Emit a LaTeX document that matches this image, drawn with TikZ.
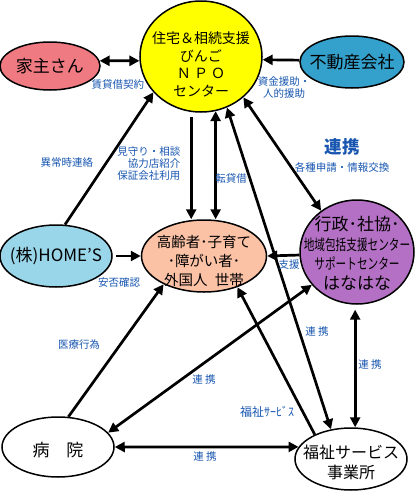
\documentclass[tikz,border=0pt]{standalone}
\usepackage{fontspec}
\usepackage{graphicx}
\setmainfont{Noto Sans CJK JP}
\usetikzlibrary{arrows.meta,shapes.geometric}

\begin{document}
\begin{tikzpicture}[x=1pt,y=-1pt,
    bub/.style={ellipse,draw=black,line width=1.5pt,inner sep=0pt},
    ntxt/.style={align=center,font=\fontsize{14}{17.5}\selectfont},
    btxt/.style={align=center,font=\fontsize{17}{20}\selectfont},
    lbl/.style={align=center,text=cBlue,font=\fontsize{10.5}{12}\selectfont},
    arr/.style={line width=2.7pt,-{Triangle[length=10pt,width=10pt]}},
    darr/.style={line width=2.7pt,{Triangle[length=10pt,width=10pt]}-{Triangle[length=10pt,width=10pt]}}]
  \definecolor{cNpo}{RGB}{255,255,0}
  \definecolor{cYanu}{RGB}{240,122,130}
  \definecolor{cFudo}{RGB}{52,160,204}
  \definecolor{cHomes}{RGB}{153,214,234}
  \definecolor{cKou}{RGB}{252,194,166}
  \definecolor{cGyo}{RGB}{180,112,196}
  \definecolor{cBlue}{RGB}{24,86,176}

  \useasboundingbox (0,0) rectangle (415,491);

  % --- bubbles ---
  \node[bub,fill=cNpo,minimum width=122pt,minimum height=111pt,
    label={[ntxt,yshift=-8pt]center:住宅＆相続支援\\びんご\\Ｎ Ｐ Ｏ\\センター}] (npo) at (201,56.5) {};
  \node[bub,fill=cYanu,minimum width=100pt,minimum height=48pt,
    label={[btxt]center:家主さん}] (yanu) at (50,66) {};
  \node[bub,fill=cFudo,minimum width=104pt,minimum height=52pt,
    label={[btxt]center:不動産会社}] (fudo) at (352,62) {};
  \node[bub,fill=cHomes,minimum width=112pt,minimum height=62pt,
    label={[btxt]center:(株)HOME’S}] (homes) at (56,256) {};
  \node[bub,fill=cKou,minimum width=125pt,minimum height=72pt,
    label={[align=center,font=\fontsize{14.5}{19}\selectfont,yshift=-5pt]center:高齢者･子育て\\･障がい者･\\外国人\hspace{0.5em}世帯}] (kou) at (204,256) {};
  \node[bub,fill=cGyo,minimum width=114pt,minimum height=104pt,
    label={[align=center,font=\fontsize{17}{19.5}\selectfont,yshift=-1.5pt]center:行政･社協･\\
      {\fontsize{15}{19.5}\selectfont\scalebox{0.71}[1]{地域包括支援センター}}\\
      {\fontsize{15}{19.5}\selectfont\scalebox{0.71}[1]{サポートセンター}}\\はなはな}] (gyo) at (357,252) {};
  \node[bub,fill=white,minimum width=112pt,minimum height=60pt,
    label={[btxt,yshift=-3pt]center:病　院}] (byo) at (58,447) {};
  \node[bub,fill=white,minimum width=112pt,minimum height=62pt,
    label={[align=center,font=\fontsize{16}{20}\selectfont,yshift=-3pt]center:福祉サービス\\事業所}] (fuku) at (351,459) {};

  % --- connectors ---
  \draw[darr] (yanu.6) -- (npo.184);
  \draw[arr] (fudo.178) -- (npo.-3);
  \draw[arr] (homes.74) -- (npo.217);
  \draw[arr,shorten <=5pt] (npo.-100) -- (npo.-100 |- kou.north);
  \draw[darr] (npo.-75) -- (npo.-75 |- kou.north);
  \draw[darr] (fuku.124) -- (npo.-63);
  \draw[darr] (npo.-44) -- (gyo.131);
  \draw[arr,shorten <=3pt] (homes.east) -- (kou.west);
  \draw[arr] (gyo.183) -- (kou.east);
  \draw[arr] (byo.71) -- (kou.215);
  \draw[darr] (byo.16) -- (gyo.216);
  \draw[arr] (fuku.146) -- (kou.-43);
  \draw[darr,shorten <=5pt] (gyo.-92) -- (gyo.-92 |- fuku.north);
  \draw[darr] (byo.east) -- (fuku.167);

  % --- labels ---
  \node[lbl] (lKeiyaku) at (118,85) {賃貸借契約};
  \node[lbl] (lShikin) at (284,87.5) {資金援助・\\人的援助};
  \node[lbl] (lIjou) at (67,163) {異常時連絡};
  \node[lbl,align=right,anchor=east] (lMimamori) at (184,164) {見守り・相談\\協力店紹介\\保証会社利用};
  \node[lbl] (lTentai) at (231,178) {転貸借};
  \node[lbl,font=\fontsize{17.5}{20}\selectfont\bfseries] (lRenkei) at (342,147) {連携};
  \node[lbl] (lShinsei) at (342,167) {各種申請・情報交換};
  \node[lbl] (lAnpi) at (119,283) {安否確認};
  \node[lbl] (lShien) at (289,265) {支援};
  \node[lbl] (lIryou) at (79,345) {医療行為};
  \node[lbl] (lRenA) at (204,380) {連 携};
  \node[lbl] (lRenB) at (317,332) {連 携};
  \node[lbl] (lRenC) at (370,365) {連 携};
  \node[lbl] (lRenD) at (205,457) {連 携};
  \node[lbl,font=\fontsize{12}{13}\selectfont] (lFukushi) at (267,412) {福祉ｻｰﾋﾞｽ};
\end{tikzpicture}
\end{document}
